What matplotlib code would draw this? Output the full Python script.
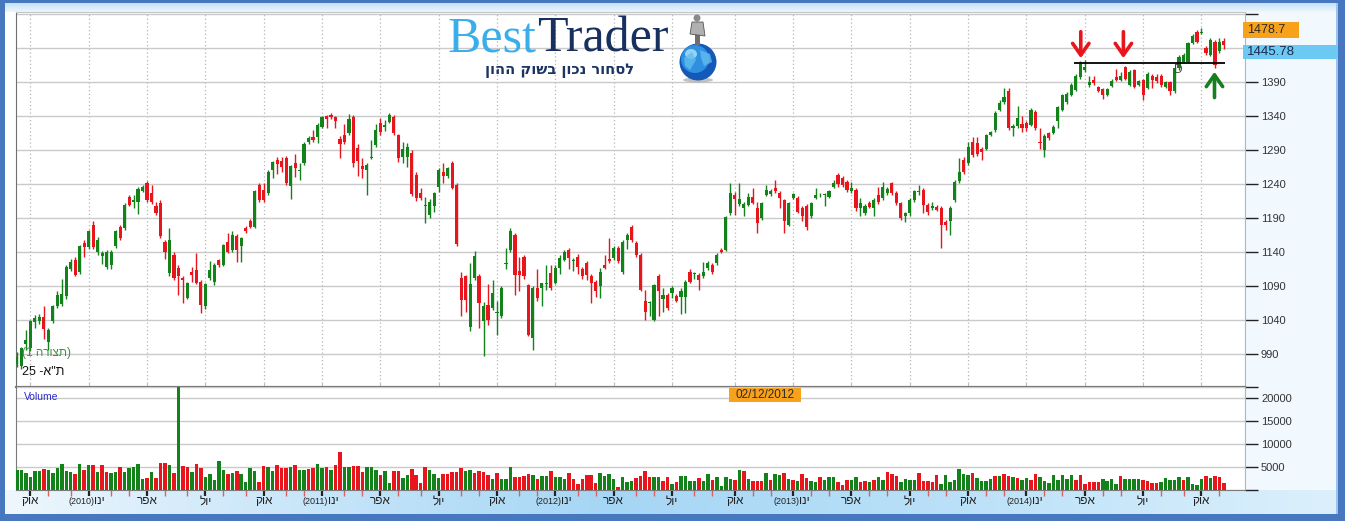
import numpy as np
import pandas as pd
import matplotlib
matplotlib.use("Agg")
import matplotlib.pyplot as plt
from matplotlib.colors import to_rgb
from matplotlib.patches import Rectangle, Ellipse, Polygon

# ==============================================================================
# DATA (weekly TA-25 candles)
# ==============================================================================
START_WEEK = "2009-09-13"

open_ = [
    975, 972, 1004, 998, 1036, 1038, 1044, 1007, 1038, 1060,
    1063, 1075, 1115, 1128, 1110, 1153, 1147, 1180, 1140, 1134,
    1118, 1120, 1148, 1177, 1175, 1220, 1214, 1214, 1230, 1242,
    1226, 1207, 1212, 1155, 1109, 1135, 1116, 1101, 1072, 1111,
    1113, 1096, 1060, 1101, 1096, 1128, 1121, 1155, 1143, 1163,
    1148, 1175, 1185, 1177, 1238, 1231, 1226, 1260, 1275, 1274,
    1278, 1237, 1271, 1259, 1270, 1302, 1309, 1309, 1324, 1340,
    1341, 1338, 1306, 1312, 1315, 1338, 1293, 1267, 1260, 1278,
    1297, 1329, 1324, 1331, 1338, 1312, 1280, 1280, 1286, 1253,
    1226, 1207, 1194, 1207, 1236, 1258, 1251, 1271, 1238, 1101,
    1104, 1030, 1101, 1104, 1038, 1062, 1057, 1050, 1045, 1122,
    1143, 1165, 1112, 1133, 1091, 1013, 1087, 1086, 1093, 1109,
    1094, 1116, 1128, 1143, 1126, 1133, 1114, 1123, 1104, 1096,
    1089, 1121, 1130, 1131, 1145, 1111, 1158, 1177, 1153, 1136,
    1067, 1064, 1040, 1104, 1070, 1077, 1079, 1075, 1074, 1074,
    1111, 1108, 1106, 1104, 1116, 1121, 1123, 1143, 1143, 1197,
    1224, 1211, 1204, 1209, 1221, 1204, 1190, 1224, 1225, 1234,
    1226, 1216, 1180, 1219, 1219, 1204, 1207, 1192, 1219, 1223,
    1224, 1221, 1236, 1253, 1248, 1243, 1229, 1231, 1204, 1197,
    1212, 1204, 1224, 1219, 1226, 1241, 1226, 1212, 1192, 1197,
    1216, 1228, 1231, 1209, 1204, 1206, 1204, 1184, 1185, 1216,
    1244, 1275, 1271, 1302, 1300, 1291, 1292, 1312, 1319, 1349,
    1361, 1376, 1322, 1325, 1328, 1329, 1327, 1346, 1302, 1290,
    1315, 1315, 1332, 1349, 1361, 1371, 1378, 1398, 1407, 1385,
    1393, 1382, 1379, 1371, 1384, 1397, 1393, 1412, 1386, 1407,
    1386, 1393, 1381, 1399, 1398, 1399, 1383, 1390, 1376, 1410,
    1420, 1420, 1448, 1464, 1462, 1440, 1430, 1449, 1435, 1451,
]
high = [
    992, 1000, 1025, 1040, 1047, 1048, 1060, 1028, 1062, 1082,
    1100, 1120, 1130, 1132, 1150, 1157, 1172, 1185, 1162, 1141,
    1142, 1142, 1172, 1180, 1212, 1224, 1224, 1236, 1238, 1244,
    1238, 1214, 1216, 1158, 1175, 1140, 1120, 1104, 1096, 1118,
    1138, 1098, 1094, 1126, 1124, 1130, 1152, 1167, 1170, 1166,
    1162, 1178, 1188, 1231, 1241, 1242, 1260, 1274, 1280, 1280,
    1281, 1268, 1284, 1270, 1301, 1310, 1319, 1329, 1340, 1342,
    1345, 1340, 1310, 1328, 1343, 1341, 1298, 1278, 1270, 1305,
    1328, 1337, 1334, 1345, 1342, 1314, 1302, 1300, 1290, 1258,
    1234, 1221, 1218, 1228, 1263, 1270, 1265, 1274, 1241, 1110,
    1106, 1123, 1141, 1108, 1066, 1092, 1099, 1067, 1090, 1145,
    1175, 1168, 1133, 1136, 1093, 1090, 1114, 1094, 1121, 1121,
    1121, 1136, 1143, 1145, 1131, 1137, 1118, 1127, 1108, 1099,
    1116, 1136, 1160, 1148, 1148, 1158, 1168, 1180, 1156, 1138,
    1084, 1068, 1093, 1108, 1087, 1080, 1090, 1078, 1086, 1099,
    1114, 1111, 1109, 1125, 1126, 1124, 1138, 1146, 1193, 1241,
    1228, 1241, 1214, 1226, 1234, 1214, 1214, 1238, 1232, 1246,
    1229, 1218, 1214, 1227, 1222, 1207, 1210, 1214, 1234, 1227,
    1227, 1231, 1245, 1256, 1252, 1246, 1243, 1234, 1219, 1210,
    1215, 1219, 1236, 1243, 1236, 1243, 1229, 1214, 1199, 1219,
    1231, 1238, 1234, 1212, 1214, 1209, 1207, 1187, 1208, 1246,
    1278, 1280, 1302, 1309, 1309, 1294, 1314, 1318, 1347, 1364,
    1381, 1381, 1328, 1355, 1340, 1332, 1352, 1349, 1322, 1313,
    1317, 1326, 1355, 1373, 1375, 1388, 1401, 1421, 1422, 1399,
    1399, 1384, 1381, 1381, 1394, 1409, 1404, 1414, 1407, 1409,
    1393, 1395, 1404, 1402, 1401, 1402, 1392, 1392, 1412, 1429,
    1432, 1449, 1460, 1466, 1469, 1443, 1454, 1452, 1454, 1454,
]
low = [
    970, 968, 995, 994, 1028, 1034, 1011, 996, 1035, 1058,
    1060, 1070, 1112, 1104, 1108, 1133, 1144, 1144, 1136, 1122,
    1114, 1115, 1146, 1158, 1172, 1207, 1205, 1196, 1228, 1214,
    1210, 1194, 1160, 1130, 1105, 1098, 1077, 1065, 1070, 1096,
    1092, 1050, 1056, 1098, 1091, 1118, 1119, 1138, 1140, 1125,
    1125, 1168, 1175, 1175, 1214, 1213, 1224, 1248, 1255, 1258,
    1239, 1218, 1250, 1245, 1268, 1299, 1302, 1300, 1322, 1322,
    1336, 1322, 1278, 1298, 1312, 1265, 1251, 1248, 1224, 1276,
    1294, 1312, 1318, 1329, 1312, 1272, 1270, 1265, 1222, 1215,
    1216, 1182, 1190, 1199, 1228, 1242, 1248, 1232, 1148, 1045,
    1052, 1023, 1098, 1028, 986, 1032, 1054, 1018, 1042, 1114,
    1140, 1077, 1082, 1100, 1016, 996, 1068, 1060, 1084, 1084,
    1092, 1108, 1126, 1114, 1112, 1108, 1100, 1098, 1065, 1074,
    1072, 1114, 1124, 1128, 1124, 1108, 1144, 1155, 1132, 1082,
    1040, 1046, 1038, 1045, 1052, 1055, 1072, 1066, 1048, 1050,
    1094, 1100, 1084, 1101, 1113, 1108, 1121, 1138, 1141, 1194,
    1194, 1208, 1192, 1207, 1210, 1167, 1187, 1222, 1222, 1226,
    1204, 1167, 1178, 1217, 1197, 1185, 1172, 1190, 1217, 1220,
    1208, 1219, 1234, 1236, 1236, 1228, 1226, 1200, 1192, 1194,
    1204, 1192, 1210, 1216, 1224, 1224, 1209, 1187, 1184, 1192,
    1214, 1224, 1197, 1194, 1201, 1200, 1146, 1172, 1165, 1214,
    1241, 1255, 1268, 1280, 1281, 1275, 1290, 1310, 1317, 1347,
    1358, 1320, 1310, 1322, 1316, 1318, 1325, 1320, 1292, 1280,
    1305, 1313, 1322, 1347, 1358, 1369, 1376, 1395, 1404, 1383,
    1386, 1375, 1365, 1369, 1382, 1391, 1391, 1393, 1384, 1381,
    1384, 1364, 1379, 1381, 1389, 1383, 1381, 1371, 1374, 1408,
    1418, 1418, 1446, 1447, 1460, 1430, 1428, 1410, 1433, 1439,
]
close = [
    985, 998, 1010, 1038, 1042, 1044, 1026, 1025, 1060, 1077,
    1078, 1117, 1125, 1106, 1148, 1147, 1170, 1147, 1158, 1138,
    1139, 1140, 1170, 1160, 1209, 1209, 1216, 1233, 1236, 1216,
    1214, 1197, 1163, 1140, 1157, 1101, 1104, 1099, 1094, 1106,
    1094, 1062, 1092, 1113, 1121, 1121, 1150, 1140, 1165, 1143,
    1160, 1170, 1177, 1229, 1216, 1216, 1258, 1272, 1269, 1265,
    1241, 1266, 1263, 1261, 1299, 1307, 1305, 1327, 1339, 1335,
    1338, 1332, 1299, 1302, 1336, 1270, 1273, 1262, 1268, 1280,
    1320, 1317, 1327, 1341, 1315, 1278, 1291, 1294, 1225, 1219,
    1219, 1209, 1214, 1226, 1260, 1251, 1263, 1234, 1152, 1069,
    1069, 1092, 1134, 1065, 1060, 1040, 1079, 1052, 1087, 1124,
    1170, 1106, 1106, 1104, 1018, 1087, 1072, 1094, 1094, 1087,
    1116, 1131, 1140, 1131, 1128, 1118, 1104, 1106, 1094, 1082,
    1111, 1116, 1127, 1145, 1126, 1155, 1165, 1158, 1136, 1084,
    1052, 1066, 1091, 1082, 1077, 1057, 1087, 1068, 1082, 1096,
    1096, 1109, 1099, 1111, 1123, 1111, 1136, 1140, 1191, 1226,
    1217, 1217, 1210, 1221, 1212, 1182, 1212, 1231, 1230, 1229,
    1219, 1185, 1212, 1225, 1199, 1192, 1177, 1212, 1224, 1224,
    1225, 1229, 1241, 1240, 1239, 1231, 1234, 1204, 1212, 1207,
    1206, 1216, 1214, 1236, 1233, 1226, 1212, 1190, 1197, 1216,
    1229, 1229, 1209, 1199, 1207, 1202, 1180, 1180, 1204, 1243,
    1257, 1258, 1295, 1283, 1284, 1287, 1312, 1316, 1345, 1359,
    1368, 1322, 1325, 1337, 1322, 1322, 1349, 1322, 1300, 1311,
    1307, 1324, 1353, 1371, 1373, 1386, 1399, 1418, 1412, 1390,
    1388, 1377, 1371, 1379, 1392, 1393, 1399, 1395, 1405, 1383,
    1391, 1371, 1402, 1393, 1391, 1386, 1390, 1376, 1410, 1427,
    1430, 1447, 1458, 1449, 1463, 1432, 1452, 1415, 1449, 1444,
]
volume = [
    4400, 4400, 3700, 2800, 4200, 4200, 4550, 4400, 3800, 4800,
    5700, 4200, 4000, 3450, 5700, 4400, 5500, 5500, 4000, 5500,
    4000, 3800, 4000, 5100, 4000, 4800, 5000, 5700, 2350, 2650,
    4000, 2650, 6000, 5900, 5500, 3750, 23000, 5300, 5000, 4000,
    5700, 4700, 2850, 3500, 2200, 6400, 4400, 3500, 3750, 4200,
    3500, 1750, 4850, 4200, 1750, 5300, 5000, 4200, 5500, 4850,
    4700, 5000, 5500, 4400, 4400, 4550, 4700, 5700, 4850, 5100,
    4400, 5500, 8400, 5100, 5100, 5300, 5300, 4000, 5100, 5100,
    4400, 3300, 4200, 1550, 4200, 4200, 2650, 3300, 4600, 3300,
    1550, 5100, 4400, 3500, 2650, 3500, 3500, 4000, 4000, 4800,
    4200, 4400, 3800, 4200, 4000, 3300, 2350, 3650, 2350, 2300,
    5100, 2800, 2800, 2950, 3500, 3300, 2400, 3100, 3100, 4250,
    2850, 2850, 2500, 3750, 2400, 1300, 2350, 3300, 3300, 1600,
    3750, 3100, 3500, 2350, 750, 2850, 1850, 2000, 2700, 3150,
    4250, 2800, 2800, 2850, 2000, 2850, 1250, 1750, 3100, 3100,
    2000, 2050, 2650, 2050, 3500, 2200, 2850, 900, 2850, 2300,
    2200, 4400, 4200, 2300, 2000, 2000, 2000, 3750, 2200, 3500,
    3300, 3750, 2400, 2200, 2000, 3500, 2650, 2000, 1750, 2850,
    2200, 2850, 2850, 1750, 1100, 2200, 2200, 2800, 1750, 2000,
    1750, 2200, 2800, 2200, 4000, 3500, 2950, 1750, 2400, 2200,
    2200, 3750, 2000, 2000, 1750, 3300, 1300, 3300, 1750, 2200,
    4600, 3500, 3300, 3750, 2650, 2000, 2000, 2400, 3100, 2950,
    3500, 2950, 2800, 2550, 2200, 2550, 2200, 3500, 2850, 2000,
    1550, 3300, 2200, 3300, 2300, 3300, 2200, 3300, 1300, 1750,
    1750, 1750, 2400, 2000, 2400, 1300, 3100, 2400, 2400, 2400,
    2400, 2200, 2000, 1550, 1550, 1750, 2650, 2200, 2200, 2850,
    2200, 2850, 1300, 1000, 2400, 3100, 2650, 3100, 2800, 1550,
]
# g = green bar, r = red bar, as coloured in the volume pane
volume_colors = (
    "ggggggrggg" "gggrgrgrgr" "rggrgggggr" "grrrgrgrrg" "rrgggggrgr"
    "ggggrrggrr" "rgrggrrggr" "grrggrrrgg" "grggrrggrr" "rrgggrr"
    "rrrggrrrrg" "rgggrrrrgr" "ggrgggrrrr" "rrrggggrgg" "grrrrggrrg"
    "rggggrggrg" "gggrgrgrrr" "grggrgrgrr" "ggrgggrrr"
    "ggrrgrggrr" "rggggrrrrr" "gggggggrgg" "ggrgrrgrgg" "rrgggggggg"
    "rrrrrrgggg" "rggggrrrrg" "ggggrggggr" "grrr"
)

PRICE_TICKS = list(range(990, 1491, 50))
PRICE_LABELLED = list(range(990, 1391, 50))   # 1440 sits under the cursor box
VOLUME_TICKS = [5000, 10000, 15000, 20000]
MONTHS_HE = {1: "ינו", 4: "אפר", 7: "יול", 10: "אוק"}

LAST_PRICE = "1478.7"
CURSOR_PRICE = "1445.78"
CURSOR_DATE = "02/12/2012"
RESIST_LEVEL = 1417.5
RESIST_FROM, RESIST_TO = 235.6, 269.3
DOWN_ARROWS = [237.1, 246.6]
UP_ARROW = 266.9
DIVIDEND_WEEK = 258.8

INDEX_NAME = "ת\"א"
LAYOUT_NAME = "תצורה"
SLOGAN = "לסחור נכון בשוק ההון"

GREEN = "#13821b"
RED = "#e8161c"

# ==============================================================================
# FIGURE
# ==============================================================================
W, H = 1345, 521
plt.rcParams["font.family"] = ["Liberation Sans", "DejaVu Sans"]


def rtl(s):
    # matplotlib has no bidi support: reverse Hebrew to visual order
    return s[::-1]


fig = plt.figure(figsize=(W / 100, H / 100), dpi=100)
fig.patch.set_facecolor("white")

# window chrome drawn in pixel coordinates
bg = fig.add_axes([0, 0, 1, 1])
bg.set_zorder(-5)
bg.axis("off")


def gradient(x0, x1, y0, y1, stops, colors, vertical=False):
    t = np.linspace(0, 1, 256)
    rgb = np.array([np.interp(t, stops, [to_rgb(c)[k] for c in colors]) for k in range(3)]).T
    img = rgb[:, None, :] if vertical else rgb[None, :, :]
    bg.imshow(img, extent=[x0, x1, y1, y0], aspect="auto", interpolation="bilinear")


gradient(5, 1339, 3, 12, [0, 1], ["#c4e1f7", "#eef7fd"], vertical=True)
gradient(5, 1339, 490, 514, [0, 0.12, 0.45, 0.7, 1.0],
         ["#eef7fd", "#d8edfb", "#a6d6f5", "#b9e0f8", "#dcf0fc"])
bg.add_patch(Rectangle((1245, 12), 93, 478, fc="#f1f8fe", ec="none"))
for rx, ry, rw, rh in [(0, 0, 1345, 3), (0, 0, 5, 521), (1338, 0, 7, 521), (0, 514, 1345, 7)]:
    bg.add_patch(Rectangle((rx, ry), rw, rh, fc="#4677bf", ec="none"))
bg.add_patch(Rectangle((1336, 3), 2, 511, fc="#9cc3ea", ec="none"))
bg.set_xlim(0, W)
bg.set_ylim(H, 0)

n = len(close)
x = np.arange(n)
o = np.array(open_, float)
c = np.array(close, float)
up = c >= o
candle_col = np.where(up, GREEN, RED)

# ---------------- price pane ----------------
ax = fig.add_axes([16 / W, 1 - 387 / H, 1229 / W, 375 / H])
ax.set_facecolor("white")
ax.set_xlim(-0.2, 273.7)
ax.set_ylim(941, 1493)
ax.set_axisbelow(True)

ax.vlines(x, low, high, colors=candle_col, lw=1.0, zorder=3)
ax.bar(x, np.maximum(np.abs(c - o), 1.0), bottom=np.minimum(o, c), width=0.7,
       color=candle_col, linewidth=0, zorder=3)

dates = pd.date_range(START_WEEK, periods=n, freq="W-SUN")
month_start = [i for i in range(1, n) if dates[i].month != dates[i - 1].month]
major = [i for i in month_start if dates[i].month in MONTHS_HE]
minor = [i for i in month_start if dates[i].month not in MONTHS_HE]

ax.set_xticks(major)
ax.set_xticklabels([])
ax.tick_params(axis="x", length=3, color="#bbbbbb", direction="in")
ax.grid(axis="x", linestyle=(0, (1, 2)), color="#b5b5b5", lw=0.9)
ax.grid(axis="y", linestyle="-", color="#cacaca", lw=1.0)

ax.yaxis.tick_right()
ax.set_yticks(PRICE_TICKS)
ax.set_yticklabels([str(t) if t in PRICE_LABELLED else "" for t in PRICE_TICKS])
ax.tick_params(axis="y", length=9.5, width=1, color="#222222", pad=2,
               labelsize=8, labelcolor="#333333")
ax.spines["left"].set_color("#6f6f6f")
ax.spines["bottom"].set_color("#7a7a7a")
ax.spines["bottom"].set_linewidth(1.6)
ax.spines["top"].set_color("#c6c6c6")
ax.spines["right"].set_color("#a9b6c4")

# support / resistance annotations
ax.hlines(RESIST_LEVEL, RESIST_FROM, RESIST_TO, color="black", lw=1.3, zorder=4)
for xa in DOWN_ARROWS:
    ax.annotate("", xy=(xa, 1425), xytext=(xa, 1464),
                arrowprops=dict(arrowstyle="->,head_length=0.6,head_width=0.42", color=RED,
                                lw=2.6, mutation_scale=14, shrinkA=0, shrinkB=0), zorder=5)
ax.annotate("", xy=(UP_ARROW, 1405), xytext=(UP_ARROW, 1367),
            arrowprops=dict(arrowstyle="->,head_length=0.6,head_width=0.42", color="#17801c",
                            lw=2.6, mutation_scale=14, shrinkA=0, shrinkB=0), zorder=5)
ax.text(DIVIDEND_WEEK, 1407.6, "D", fontsize=8.5, color="#444444", ha="center", va="center", zorder=5)

ax.text(6 / 1229, (387 - 353) / 375, "(1 " + rtl(LAYOUT_NAME) + ")", transform=ax.transAxes,
        fontsize=8.5, color="#3f8f3f", ha="left", va="center", zorder=6)
ax.text(6 / 1229, (387 - 372) / 375, "25 -" + rtl(INDEX_NAME), transform=ax.transAxes,
        fontsize=9, color="#111111", ha="left", va="center", zorder=6)

# ---------------- volume pane ----------------
axv = fig.add_axes([16 / W, 1 - 490 / H, 1229 / W, 103 / H])
axv.set_facecolor("white")
axv.set_xlim(ax.get_xlim())
axv.set_ylim(0, 22500)
axv.set_axisbelow(True)
vcol = [GREEN if ch == "g" else RED for ch in volume_colors]
axv.bar(x, volume, width=0.78, color=vcol, linewidth=0, zorder=3)

axv.yaxis.tick_right()
axv.set_yticks([0] + VOLUME_TICKS + [22500])
axv.set_yticklabels([""] + [str(v) for v in VOLUME_TICKS] + [""])
axv.tick_params(axis="y", length=9.5, width=1, color="#222222", pad=2,
                labelsize=8, labelcolor="#333333")
axv.grid(axis="y", linestyle="-", color="#cacaca", lw=1.0)

axv.set_xticks(major)
axv.set_xticks(minor, minor=True)
axv.set_xticklabels([])
axv.tick_params(axis="x", which="major", length=4.5, width=1.6, color="#222222", direction="out")
axv.tick_params(axis="x", which="minor", length=4, width=1, color="#e06060", direction="out")
for s in ["left", "bottom"]:
    axv.spines[s].set_color("#7a7a7a")
axv.spines["top"].set_visible(False)
axv.spines["right"].set_color("#a9b6c4")
axv.text(8 / 1229, (490 - 397) / 103, "Volume", transform=axv.transAxes,
         fontsize=7.5, color="#2b2bcc", ha="left", va="center")

xt = axv.get_xaxis_transform()
for i in major:
    m = dates[i].month
    if m == 1:
        axv.annotate(rtl(MONTHS_HE[m]), xy=(i, 0), xycoords=xt, xytext=(4, -8),
                     textcoords="offset points", ha="left", va="center", fontsize=8.5, color="#222222")
        axv.annotate(f"({dates[i].year})", xy=(i, 0), xycoords=xt, xytext=(4.5, -8),
                     textcoords="offset points", ha="right", va="center", fontsize=6.5, color="#222222")
    else:
        axv.annotate(rtl(MONTHS_HE[m]), xy=(i, 0), xycoords=xt, xytext=(0, -8),
                     textcoords="offset points", ha="center", va="center", fontsize=8.5, color="#222222")


# ---------------- value boxes ----------------
def value_box(x0, y0, x1, y1, fc, text, tc, fs, ha="left"):
    fig.add_artist(Rectangle((x0 / W, 1 - y1 / H), (x1 - x0) / W, (y1 - y0) / H,
                             transform=fig.transFigure, fc=fc, ec="none", zorder=10))
    tx = x0 + 4 if ha == "left" else (x0 + x1) / 2
    fig.text(tx / W, 1 - (y0 + y1) / 2 / H, text, ha=ha, va="center",
             fontsize=fs, color=tc, zorder=11)


value_box(1243, 22, 1299, 38, "#f8a21c", LAST_PRICE, "#2a2a2a", 9)
value_box(1243, 45, 1338, 59, "#6cc9f4", CURSOR_PRICE, "#1b2b4b", 9.5)
value_box(729, 388, 801, 402, "#f8a21c", CURSOR_DATE, "#2a2a2a", 8.5, ha="center")

# ---------------- logo ----------------
renderer = fig.canvas.get_renderer()
t1 = fig.text(448 / W, 1 - 52 / H, "Best", fontsize=36, family="Liberation Serif",
              color="#3aaeea", va="baseline", ha="left", zorder=12)
bb = t1.get_window_extent(renderer)
fig.text(bb.x1 / W, 1 - 52 / H, "Trader", fontsize=36, family="Liberation Serif",
         color="#17305f", va="baseline", ha="left", zorder=12)
fig.text(560 / W, 1 - 70 / H, rtl(SLOGAN), fontsize=10.5, fontweight="bold",
         family=["DejaVu Sans"], color="#1c3461", ha="center", va="center", zorder=12)


def fig_ellipse(cx, cy, rx, ry, **kw):
    fig.add_artist(Ellipse((cx / W, 1 - cy / H), 2 * rx / W, 2 * ry / H,
                           transform=fig.transFigure, **kw))


fig_ellipse(698, 80, 15, 2.5, fc="#9a9a9a", ec="none", alpha=0.6, zorder=12)
fig_ellipse(698, 62, 18.5, 18.5, fc="#1559b8", ec="none", zorder=12)
fig_ellipse(695, 59, 14, 14, fc="#2f8fe0", ec="none", zorder=12)
fig_ellipse(691, 54, 6, 5, fc="#a9def9", ec="none", alpha=0.85, zorder=12)
for pts in [[(684, 58), (692, 52), (696, 60), (690, 70), (685, 66)],
            [(700, 50), (710, 54), (712, 62), (704, 66), (701, 58)]]:
    fig.add_artist(Polygon([(px / W, 1 - py / H) for px, py in pts], closed=True,
                           transform=fig.transFigure, fc="#62bdef", ec="none", alpha=0.8, zorder=12))
fig.add_artist(Rectangle((695 / W, 1 - 45 / H), 5 / W, 22 / H, transform=fig.transFigure,
                         fc="#6e6e6e", ec="none", zorder=12))
fig_ellipse(697, 18, 3.5, 3.5, fc="#8a8a8a", ec="none", zorder=12)
fig.add_artist(Polygon([(p[0] / W, 1 - p[1] / H) for p in [(692, 22), (703, 22), (705, 36), (690, 34)]],
                       closed=True, transform=fig.transFigure, fc="#b0b0b0", ec="#555555",
                       lw=0.6, zorder=12))

fig.savefig("out.png", dpi=100)
